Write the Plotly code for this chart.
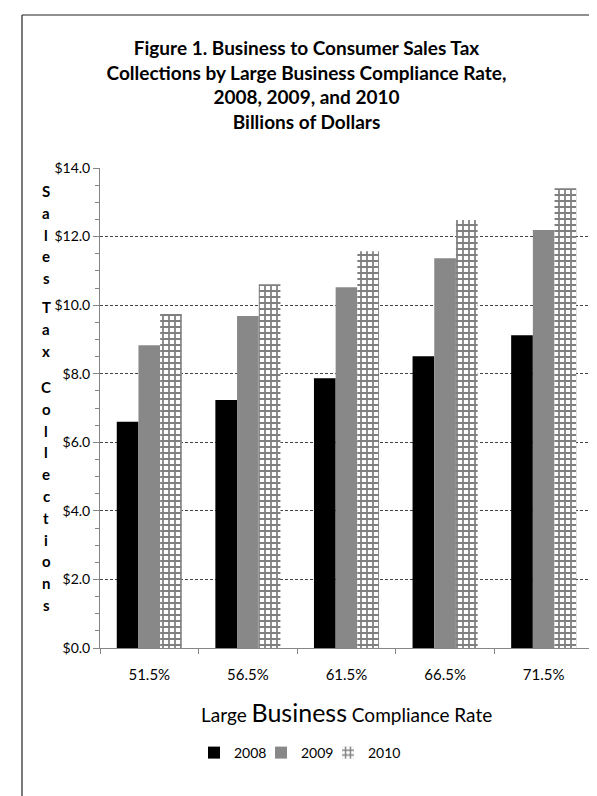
import plotly.graph_objects as go

categories = ["51.5%", "56.5%", "61.5%", "66.5%", "71.5%"]
years = ["2008", "2009", "2010"]
values_2008 = [6.60, 7.23, 7.87, 8.51, 9.12]
values_2009 = [8.83, 9.68, 10.52, 11.37, 12.19]
values_2010 = [9.74, 10.61, 11.57, 12.48, 13.41]
y_ticks = [0, 2, 4, 6, 8, 10, 12, 14]
y_tick_labels = ["$" + f"{v:.1f}" for v in y_ticks]

W, H = 597, 796
L, R, T, B = 92, 12, 160, 156
PW, PH = W - L - R, H - T - B

def px_x(p):
    return (p - L) / PW

def px_y(p):
    return (H - B - p) / PH

FONT = "Lato"

fig = go.Figure()
fig.add_trace(go.Bar(
    x=categories, y=values_2008, name=years[0], legend="legend",
    marker=dict(color="#000000", line=dict(width=0)),
))
fig.add_trace(go.Bar(
    x=categories, y=values_2009, name=years[1], legend="legend2",
    marker=dict(color="#808080", line=dict(width=0),
                pattern=dict(shape=".", fgcolor="#2e2e2e", bgcolor="#a0a0a0",
                             size=2, solidity=0.5)),
))
fig.add_trace(go.Bar(
    x=categories, y=values_2010, name=years[2], legend="legend3",
    marker=dict(color="#ffffff", line=dict(width=0),
                pattern=dict(shape="+", fgcolor="#000000", bgcolor="#ffffff",
                             size=6, solidity=0.5)),
))

title_text = ("Figure 1. Business to Consumer Sales Tax<br>"
              "Collections by Large Business Compliance Rate,<br>"
              "2008, 2009, and 2010<br>"
              "Billions of Dollars")

LEG_Y = 745
legend_common = dict(orientation="h", xanchor="left", y=px_y(LEG_Y), yanchor="middle",
                     font=dict(family=FONT, size=14, color="black"),
                     bgcolor="rgba(0,0,0,0)", itemwidth=30)

fig.update_layout(
    width=W, height=H,
    margin=dict(l=L, r=R, t=T, b=B, autoexpand=False),
    paper_bgcolor="white", plot_bgcolor="white",
    barmode="group", bargap=0.34, bargroupgap=0.0,
    font=dict(family=FONT, color="black"),
    title=dict(text=title_text, x=0.5, xref="container", xanchor="center",
               y=1 - 47 / H, yref="container", yanchor="top",
               font=dict(family=FONT, size=19, color="black", weight="bold")),
    showlegend=True,
    legend=dict(x=px_x(186), **legend_common),
    legend2=dict(x=px_x(253), **legend_common),
    legend3=dict(x=px_x(320), **legend_common),
)

fig.update_yaxes(
    range=[0, 14], tickvals=y_ticks, ticktext=y_tick_labels,
    tickfont=dict(family=FONT, size=14, color="black"),
    showgrid=True, gridcolor="#444444", gridwidth=1, griddash="3px,2px",
    showline=True, linecolor="#868686", linewidth=1, mirror=True,
    ticks="outside", ticklen=6, tickcolor="#868686",
    minor=dict(dtick=0.5, ticks="outside", ticklen=4, tickcolor="#868686", showgrid=False),
    zeroline=False,
)
fig.update_xaxes(
    tickfont=dict(family=FONT, size=15, color="black"),
    showline=True, linecolor="#868686", linewidth=1,
    ticks="outside", ticklen=5, tickcolor="#868686", tickson="boundaries",
    ticklabelstandoff=13,
    showgrid=False,
)

# X axis title
fig.add_annotation(
    text="Large <span style='font-size:25px'>Business</span> Compliance Rate",
    xref="paper", yref="paper", x=0.5, y=px_y(704), xanchor="center", yanchor="middle",
    showarrow=False, font=dict(family=FONT, size=19, color="black"),
)

# Vertical stacked y-axis title
words = ["Sales", "Tax", "Collections"]
word_starts = [183, 299, 379]
spacing = 21.8
for word, start in zip(words, word_starts):
    for i, ch in enumerate(word):
        fig.add_annotation(
            text=ch, xref="paper", yref="paper",
            x=px_x(38), y=px_y(start + i * spacing),
            xanchor="center", yanchor="middle", showarrow=False,
            font=dict(family=FONT, size=15, color="black", weight="bold"),
        )

# Outer frame lines (left and top)
fig.add_shape(type="line", xref="paper", yref="paper",
              x0=px_x(14), x1=px_x(14), y0=px_y(7), y1=px_y(H + 2),
              line=dict(color="#222222", width=1.2))
fig.add_shape(type="line", xref="paper", yref="paper",
              x0=px_x(14), x1=px_x(W + 2), y0=px_y(7), y1=px_y(7),
              line=dict(color="#222222", width=1.2))

fig.write_html("out.html")
